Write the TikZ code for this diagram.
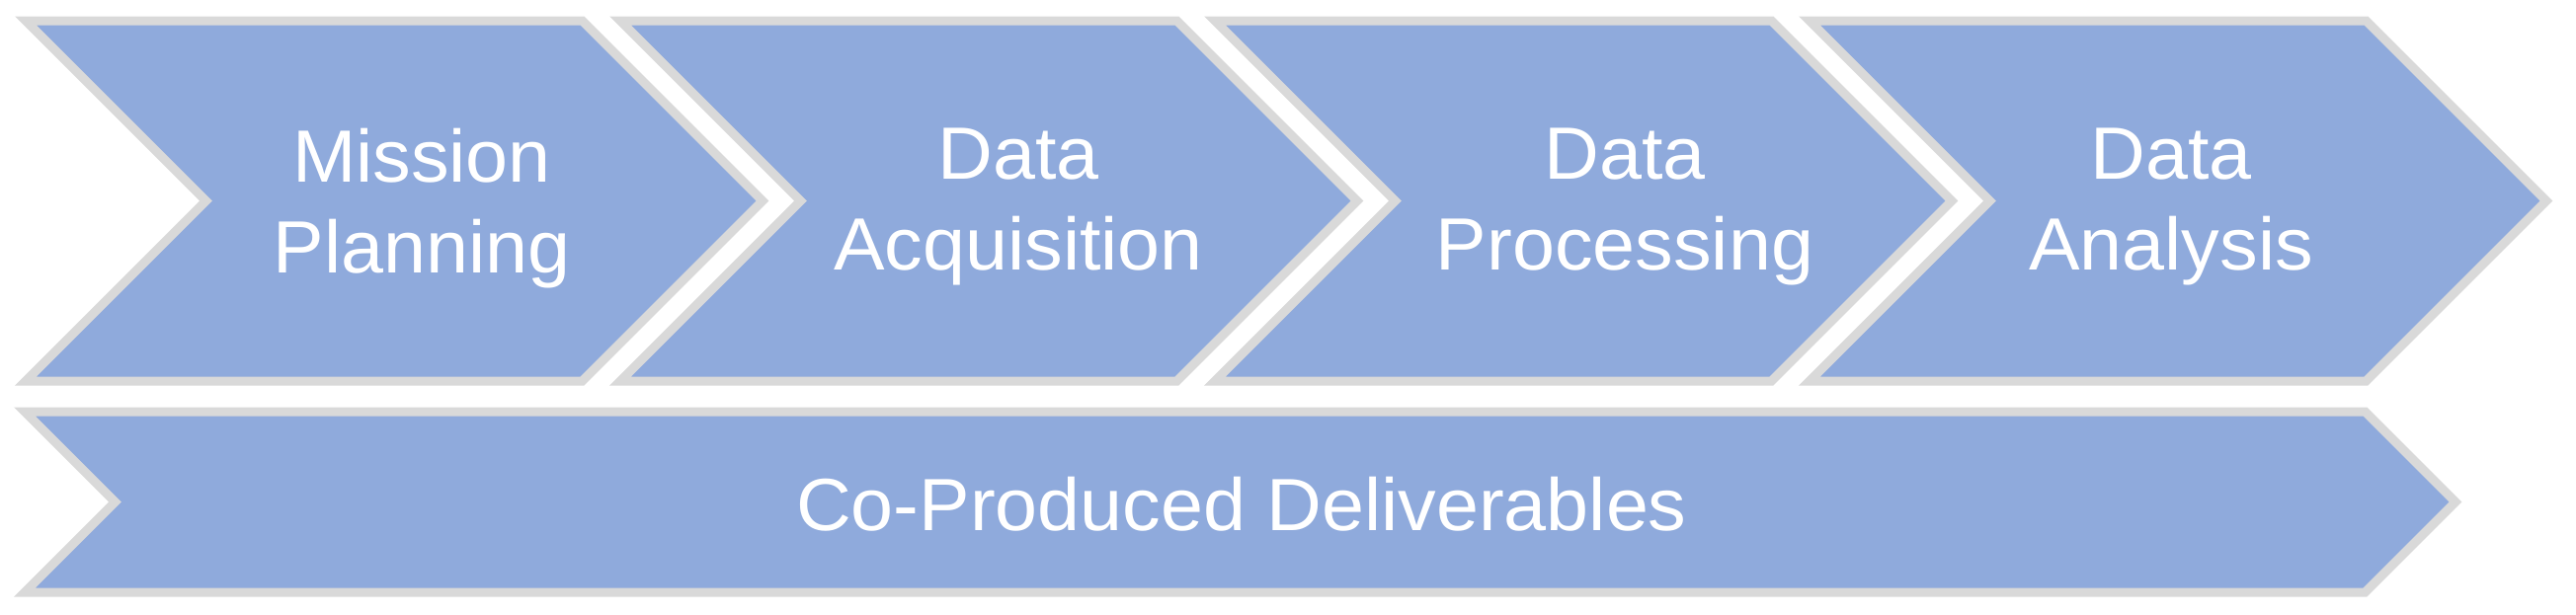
\documentclass[tikz,border=0pt]{standalone}
\usepackage{fontspec}
\setmainfont{Liberation Sans}[FakeStretch=1.03]
\usetikzlibrary{shapes.symbols}
\definecolor{stepblue}{HTML}{8FAADC}
\definecolor{stepgray}{HTML}{D9D9D9}

\begin{document}
\begin{tikzpicture}[
  x=1pt, y=-1pt,
  chev/.style={signal, signal to=east, signal from=west, signal pointer angle=90,
    draw=stepgray, line width=9pt, fill=stepblue, inner sep=0pt,
    minimum height=365pt, minimum width=746pt},
  band/.style={chev, minimum height=183pt, minimum width=2461pt},
  lbl/.style={text=white, align=center, inner sep=0pt, font=\fontsize{75}{92}\selectfont}
]
\useasboundingbox (0,0) rectangle (2608,622);

% Chevrons (top row)
\node[chev] (mission) at (399,203.5) {};
\node[chev] (acquire) at (1001,203.5) {};
\node[chev] (process) at (1603,203.5) {};
\node[chev] (analyse) at (2205,203.5) {};

% Long band (bottom row)
\node[band] (deliver) at (1255.5,508.5) {};

% Labels
\node[lbl, anchor=north] (mission-txt) at (427,130) {Mission\\Planning};
\node[lbl, anchor=north] (acquire-txt) at (1031,130) {Data\\Acquisition};
\node[lbl, anchor=north] (process-txt) at (1645,130) {Data\\Processing};
\node[lbl, anchor=north] (analyse-txt) at (2198,130) {Data\\Analysis};
\node[lbl, anchor=base] (deliver-txt) at (1257,537) {Co-Produced Deliverables};

\end{tikzpicture}
\end{document}
